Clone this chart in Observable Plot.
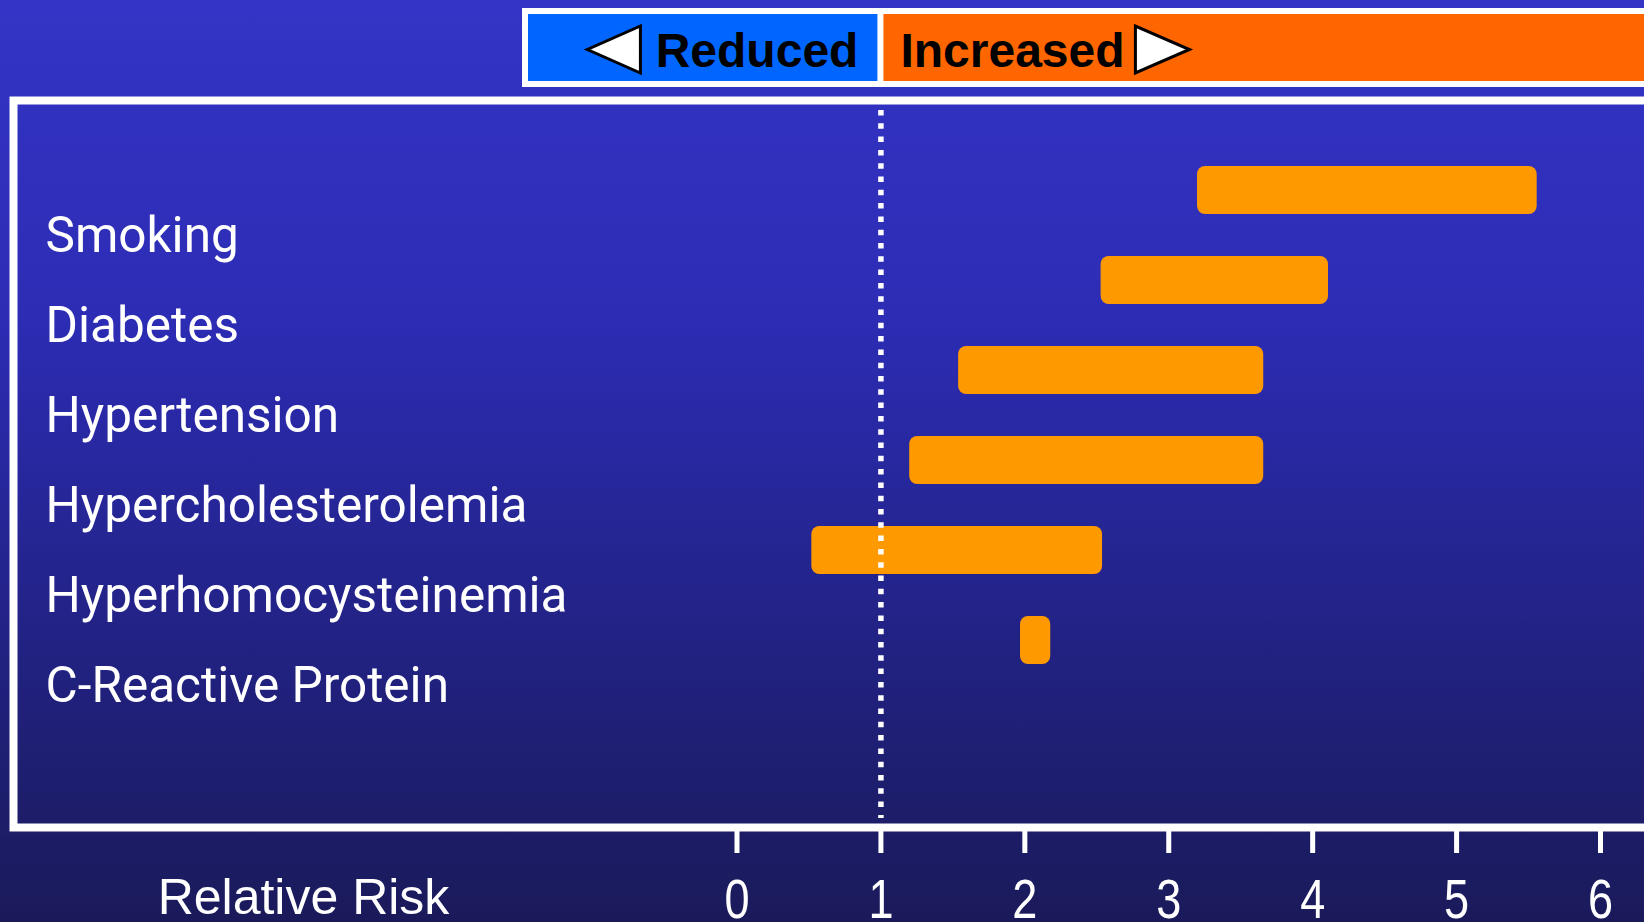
<!DOCTYPE html>
<html><head><meta charset="utf-8">
<script src="https://cdn.jsdelivr.net/npm/d3@7"></script>
<script src="https://cdn.jsdelivr.net/npm/@observablehq/plot@0.6"></script>
<style>html,body{margin:0;padding:0;overflow:hidden;background:#1a1a5a}</style>
</head><body><div id="chart"></div>
<script>
const factors = ["Smoking","Diabetes","Hypertension","Hypercholesterolemia","Hyperhomocysteinemia","C-Reactive Protein"];
const riskLow = [3.20, 2.53, 1.54, 1.20, 0.52, 1.97];
const riskHigh = [5.56, 4.11, 3.66, 3.66, 2.54, 2.18];
const xTicks = [0, 1, 2, 3, 4, 5, 6];
const legendLabels = ["Reduced", "Increased"];
const axisTitle = "Relative Risk";
const referenceRisk = 1;

const rows = factors.map((f, i) => ({factor: f, low: riskLow[i], high: riskHigh[i]}));

function legendMark(index, scales) {
  const xr = scales.x(referenceRisk);
  const g = d3.create("svg:g");
  g.append("rect").attr("x", 522).attr("y", 8).attr("width", 1300).attr("height", 79).attr("fill", "white");
  g.append("rect").attr("x", 528).attr("y", 14).attr("width", xr - 3 - 528).attr("height", 67).attr("fill", "#0066ff");
  g.append("rect").attr("x", xr + 3).attr("y", 14).attr("width", 1300).attr("height", 67).attr("fill", "#ff6600");
  const font = "'Liberation Sans', Arial, sans-serif";
  g.append("text").attr("x", xr - 22).attr("y", 50).attr("dy", "0.36em").attr("text-anchor", "end")
    .attr("font-family", font).attr("font-weight", "bold").attr("font-size", 48).attr("fill", "black").text(legendLabels[0]);
  g.append("text").attr("x", xr + 20).attr("y", 50).attr("dy", "0.36em").attr("text-anchor", "start")
    .attr("font-family", font).attr("font-weight", "bold").attr("font-size", 48).attr("fill", "black").text(legendLabels[1]);
  g.append("polygon").attr("points", [[xr - 240, 26], [xr - 240, 73], [xr - 293, 49.5]].map(p => p.join(",")).join(" "))
    .attr("fill", "white").attr("stroke", "black").attr("stroke-width", 3).attr("stroke-linejoin", "miter");
  g.append("polygon").attr("points", [[xr + 255, 26], [xr + 255, 73], [xr + 309, 49.5]].map(p => p.join(",")).join(" "))
    .attr("fill", "white").attr("stroke", "black").attr("stroke-width", 3).attr("stroke-linejoin", "miter");
  return g.node();
}

const chart = Plot.plot({
  width: 1644, height: 922,
  marginLeft: 13, marginRight: 0, marginTop: 100, marginBottom: 95,
  x: {domain: [0, 6], range: [736.5, 1600]},
  y: {domain: factors, range: [123.7, 706.4], padding: 0.467, axis: null},
  style: {background: "linear-gradient(to bottom, #3434c6 0%, #2c2cb4 35%, #23238a 65%, #1a1a5a 100%)", color: "white", overflow: "hidden"},
  marks: [
    Plot.barX(rows, {y: "factor", x1: "low", x2: "high", fill: "#ff9900", rx: 8}),
    Plot.ruleX([referenceRisk], {stroke: "white", strokeWidth: 5.5, strokeDasharray: "5.5,7.8", insetTop: 10, insetBottom: 9}),
    Plot.frame({stroke: "white", strokeWidth: 8, insetRight: -10}),
    Plot.axisX({ticks: xTicks, tickSize: 26, tickPadding: 25, strokeWidth: 5, fontSize: 55,
      fontFamily: "'Liberation Sans', Arial, sans-serif", tickFormat: d => String(d), label: null}),
    Plot.text(factors, {y: d => d, frameAnchor: "left", textAnchor: "start", dx: 32, dy: 46,
      fontSize: 49.5, fontFamily: "Roboto", fill: "white"}),
    Plot.text([axisTitle], {frameAnchor: "bottom-left", textAnchor: "middle", dx: 290, dy: 86,
      fontSize: 50, fontFamily: "'Liberation Sans', Arial, sans-serif", fill: "white"}),
    legendMark
  ]
});
// narrow the tick digits, as in the reference (condensed face)
d3.select(chart).selectAll("g[aria-label='x-axis tick label'] text").each(function () {
  const t = this.getAttribute("transform") || "";
  this.setAttribute("transform", t + " scale(0.82,1)");
});
document.getElementById("chart").append(chart);
</script>
</body></html>
